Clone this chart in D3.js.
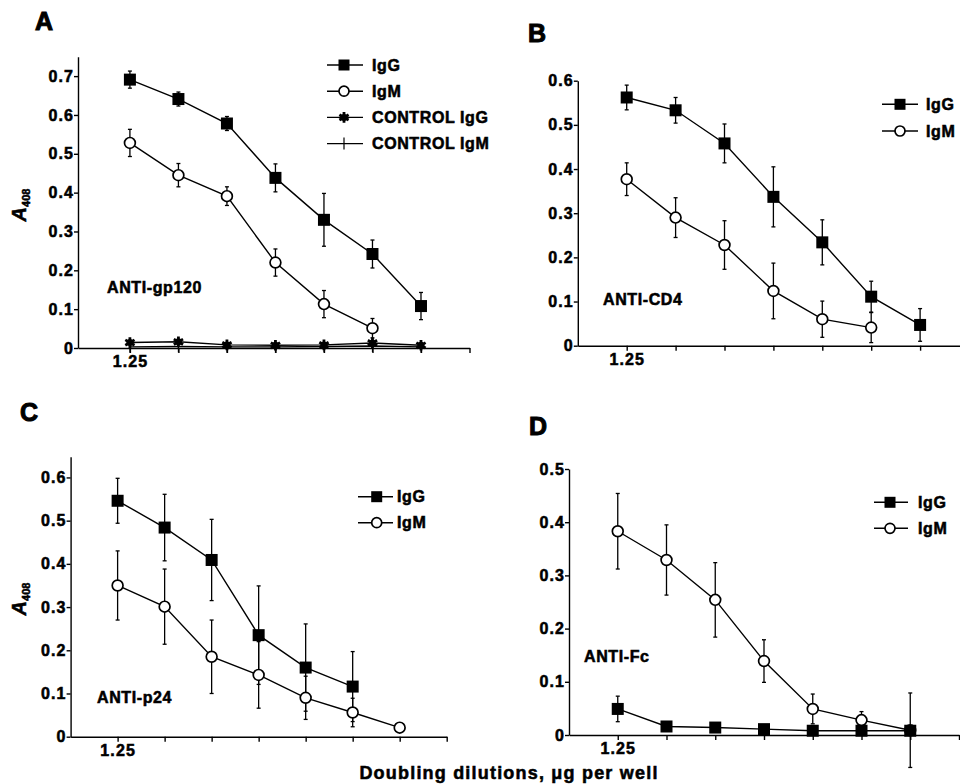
<!DOCTYPE html>
<html lang="en">
<head>
  <meta charset="UTF-8" />
  <title>ELISA titration panels</title>
  <style>
    * { margin:0; padding:0; box-sizing:border-box; }
    body { background:#fff; width:960px; height:784px; overflow:hidden; }
    svg { display:block; }
    text { font-family:'Liberation Sans', Arial, Helvetica, sans-serif; font-weight:bold; fill:#000;
      stroke:#000; stroke-width:0.55px; }
    .tick text { font-size:16px; letter-spacing:1.1px; }
    .tick line, .domain { stroke:#000; stroke-width:1.4px; }
    .series { fill:none; stroke:#000; stroke-width:1.4px; }
    .err { stroke:#000; stroke-width:1.3px; }
    .lbl { font-size:16px; letter-spacing:0.6px; }
  </style>
</head>
<body>
<script src="https://d3js.org/d3.v7.min.js"></script>
<script>
  // dilution steps (first step = 1.25 ug per well, then doubling dilutions)
  const dilutionSteps = [0, 1, 2, 3, 4, 5, 6];
  const xTickLabels = ['1.25', '', '', '', '', '', '', ''];

  // A: anti-gp120
  const gp120IgG     = [0.691, 0.641, 0.578, 0.438, 0.330, 0.242, 0.108];
  const gp120IgGErr  = [0.022, 0.018, 0.018, 0.036, 0.068, 0.036, 0.035];
  const gp120IgM     = [0.528, 0.445, 0.391, 0.220, 0.113, 0.051];
  const gp120IgMErr  = [0.035, 0.030, 0.024, 0.035, 0.035, 0.025];
  const gp120CtrlIgG = [0.014, 0.016, 0.008, 0.007, 0.008, 0.013, 0.007];
  const gp120CtrlIgM = [0.003, 0.004, 0.003, 0.003, 0.004, 0.005, 0.003];

  // B: anti-CD4
  const cd4IgG    = [0.562, 0.533, 0.458, 0.337, 0.234, 0.111, 0.047];
  const cd4IgGErr = [0.028, 0.029, 0.044, 0.068, 0.051, 0.035, 0.037];
  const cd4IgM    = [0.377, 0.290, 0.228, 0.124, 0.060, 0.041];
  const cd4IgMErr = [0.037, 0.045, 0.055, 0.063, 0.041, 0.034];

  // C: anti-p24
  const p24IgG    = [0.546, 0.484, 0.409, 0.235, 0.160, 0.116];
  const p24IgGErr = [0.052, 0.077, 0.094, 0.114, 0.101, 0.081];
  const p24IgM    = [0.350, 0.301, 0.185, 0.143, 0.090, 0.056, 0.021];
  const p24IgMErr = [0.080, 0.087, 0.085, 0.077, 0.050, 0.033, 0];

  // D: anti-Fc
  const fcIgG    = [0.049, 0.016, 0.014, 0.011, 0.008, 0.008, 0.008];
  const fcIgGErr = [0.024, 0, 0, 0, 0, 0, 0];
  const fcIgM    = [0.383, 0.329, 0.254, 0.139, 0.049, 0.028, 0.009];
  const fcIgMErr = [0.071, 0.066, 0.070, 0.040, 0.028, 0.016, 0.070];

  const yTicksA = [0, 0.1, 0.2, 0.3, 0.4, 0.5, 0.6, 0.7];
  const yTicksB = [0, 0.1, 0.2, 0.3, 0.4, 0.5, 0.6];
  const yTicksC = [0, 0.1, 0.2, 0.3, 0.4, 0.5, 0.6];
  const yTicksD = [0, 0.1, 0.2, 0.3, 0.4, 0.5];

  const svg = d3.select('body').append('svg').attr('width', 960).attr('height', 784);

  const panels = [
    { letter:'A', lx:35, ly:30, name:'ANTI-gp120', nx:107, ny:287,
      xd:[-1.07, 7], xr:[78, 469.5], yd:[0, 0.75], yr:[348, 56.7], yTicks:yTicksA, xTicks:[0,1,2,3,4,5,6,7],
      yLabel:{x:20, y:205},
      legend:{x1:327, x2:363, mx:344, tx:372, y0:65, dy:26.2},
      series:[
        {name:'IgG', v:gp120IgG, e:gp120IgGErr, sym:'square'},
        {name:'IgM', v:gp120IgM, e:gp120IgMErr, sym:'circle'},
        {name:'CONTROL IgG', v:gp120CtrlIgG, sym:'asterisk'},
        {name:'CONTROL IgM', v:gp120CtrlIgM, sym:'plus'}
      ] },
    { letter:'B', lx:528, ly:42, name:'ANTI-CD4', nx:603, ny:299,
      xd:[-1, 7], xr:[577.8, 969], yd:[0, 0.6], yr:[345.7, 80.7], yTicks:yTicksB, xTicks:[0,1,2,3,4,5,6],
      legend:{x1:882, x2:918, mx:900, tx:926, y0:104.3, dy:26.7},
      series:[
        {name:'IgG', v:cd4IgG, e:cd4IgGErr, sym:'square'},
        {name:'IgM', v:cd4IgM, e:cd4IgMErr, sym:'circle'}
      ] },
    { letter:'C', lx:20, ly:421, name:'ANTI-p24', nx:97, ny:697,
      xd:[-1, 7], xr:[70.6, 446.7], yd:[0, 0.648], yr:[736.7, 456.7], yTicks:yTicksC, xTicks:[0,1,2,3,4,5,6,7],
      yLabel:{x:20, y:599},
      legend:{x1:358, x2:393, mx:376.7, tx:397, y0:496.7, dy:26},
      series:[
        {name:'IgG', v:p24IgG, e:p24IgGErr, sym:'square'},
        {name:'IgM', v:p24IgM, e:p24IgMErr, sym:'circle'}
      ] },
    { letter:'D', lx:529, ly:435, name:'ANTI-Fc', nx:584, ny:656,
      xd:[-1, 7], xr:[569, 959], yd:[0, 0.5], yr:[735, 469], yTicks:yTicksD, xTicks:[0,1,2,3,4,5,6,7],
      legend:{x1:874, x2:908, mx:890, tx:918, y0:502.3, dy:26},
      series:[
        {name:'IgG', v:fcIgG, e:fcIgGErr, sym:'square'},
        {name:'IgM', v:fcIgM, e:fcIgMErr, sym:'circle'}
      ] }
  ];

  function drawSymbol(g, sym, cx, cy, big) {
    const s = big ? 12 : 11;
    if (sym === 'square') {
      g.append('rect').attr('x', cx - s/2).attr('y', cy - s/2).attr('width', s).attr('height', s).attr('fill', '#000');
    } else if (sym === 'circle') {
      g.append('circle').attr('cx', cx).attr('cy', cy).attr('r', big ? 5.4 : 5)
        .attr('fill', '#fff').attr('stroke', '#000').attr('stroke-width', 1.7);
    } else if (sym === 'asterisk') {
      g.append('path').attr('transform', `translate(${cx},${cy})`)
        .attr('d', d3.symbol(d3.symbolAsterisk, 80)())
        .attr('fill', 'none').attr('stroke', '#000').attr('stroke-width', 2.8);
      g.append('circle').attr('cx', cx).attr('cy', cy).attr('r', 3.5).attr('fill', '#000');
    } else if (sym === 'plus') {
      g.append('line').attr('x1', cx).attr('x2', cx).attr('y1', cy - 6).attr('y2', cy + 6)
        .attr('stroke', '#000').attr('stroke-width', 1.2);
    }
  }

  panels.forEach(p => {
    const g = svg.append('g');
    const x = d3.scaleLinear().domain(p.xd).range(p.xr);
    const y = d3.scaleLinear().domain(p.yd).range(p.yr);

    g.append('text').text(p.letter).attr('x', p.lx).attr('y', p.ly)
      .style('font-size', '25px').style('stroke-width', '1px');

    g.append('g').attr('transform', `translate(0,${p.yr[0]})`)
      .call(d3.axisBottom(x).tickValues(p.xTicks).tickSize(5).tickSizeOuter(0).tickPadding(3)
        .tickFormat((d, i) => xTickLabels[i]));
    g.append('g').attr('transform', `translate(${p.xr[0]},0)`)
      .call(d3.axisLeft(y).tickValues(p.yTicks).tickSize(4).tickSizeOuter(0).tickPadding(0)
        .tickFormat(d => d === 0 ? '0' : d3.format('.1f')(d)));
    g.selectAll('.tick text').attr('fill', '#000');

    if (p.yLabel) {
      const t = g.append('text').attr('transform', `translate(${p.yLabel.x},${p.yLabel.y}) rotate(-90)`)
        .attr('text-anchor', 'middle').attr('dy', '0.35em');
      t.append('tspan').text('A').style('font-style', 'italic').style('font-size', '20px');
      t.append('tspan').text('408').attr('dy', 4).style('font-size', '11px');
    }

    g.append('text').attr('class', 'lbl').text(p.name).attr('x', p.nx).attr('y', p.ny).attr('dy', '0.36em');

    const line = d3.line().x((d, i) => x(dilutionSteps[i])).y(d => y(d));
    p.series.forEach(s => {
      g.append('path').attr('class', 'series').attr('d', line(s.v));
    });
    p.series.forEach(s => {
      if (!s.e) return;
      s.v.forEach((v, i) => {
        if (!s.e[i]) return;
        const cx = x(dilutionSteps[i]), y1 = y(v + s.e[i]), y2 = y(v - s.e[i]);
        g.append('line').attr('class', 'err').attr('x1', cx).attr('x2', cx).attr('y1', y1).attr('y2', y2);
        g.append('line').attr('class', 'err').attr('x1', cx - 2).attr('x2', cx + 2).attr('y1', y1).attr('y2', y1);
        g.append('line').attr('class', 'err').attr('x1', cx - 2).attr('x2', cx + 2).attr('y1', y2).attr('y2', y2);
      });
    });
    p.series.slice().reverse().forEach(s => {
      s.v.forEach((v, i) => drawSymbol(g, s.sym, x(dilutionSteps[i]), y(v), true));
    });

    const L = p.legend;
    p.series.forEach((s, i) => {
      const yy = L.y0 + i * L.dy;
      g.append('line').attr('x1', L.x1).attr('x2', L.x2).attr('y1', yy).attr('y2', yy)
        .attr('stroke', '#000').attr('stroke-width', 1.4);
      drawSymbol(g, s.sym, L.mx, yy, false);
      g.append('text').attr('class', 'lbl').text(s.name).attr('x', L.tx).attr('y', yy).attr('dy', '0.36em');
    });
  });

  svg.append('text').text('Doubling dilutions, \u03bcg per well')
    .attr('x', 509).attr('y', 779).attr('text-anchor', 'middle')
    .style('font-size', '18px').style('letter-spacing', '1.2px');
</script>
</body>
</html>
